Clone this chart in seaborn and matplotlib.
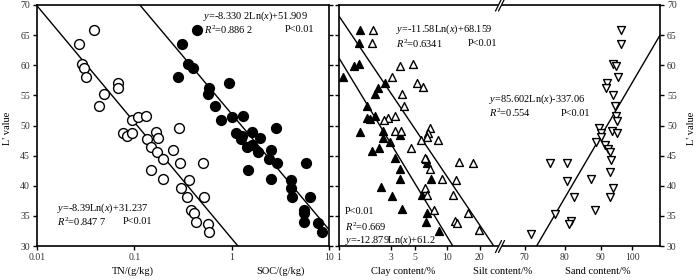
"""Soil L' value vs TN / SOC / particle size, two-panel log-scale scatter."""

import matplotlib
matplotlib.use("Agg")
import matplotlib.pyplot as plt
import matplotlib.ticker as mticker
from matplotlib.lines import Line2D
from matplotlib.patches import Polygon
import numpy as np
import seaborn as sns


W, H = 700, 280

# ---- data ----
tn_x = [0.0386, 0.0272, 0.0288, 0.0306, 0.0321, 0.0674, 0.0674, 0.0489, 0.043, 0.094,
        0.11, 0.132, 0.288, 0.076, 0.0836, 0.094, 0.166, 0.134, 0.177, 0.148,
        0.17, 0.252, 0.196, 0.297, 0.508, 0.149, 0.196, 0.367, 0.302, 0.348,
        0.525, 0.383, 0.414, 0.428, 0.568, 0.586]
tn_y = [65.9, 63.5, 60.2, 59.6, 58.1, 57.1, 56.3, 55.2, 53.2, 50.9,
        51.4, 51.5, 49.6, 48.8, 48.3, 48.8, 48.9, 47.7, 47.9, 46.4,
        45.6, 46.0, 44.4, 43.7, 43.7, 42.6, 41.1, 41.0, 39.7, 38.1,
        38.1, 36.0, 35.4, 34.0, 33.7, 32.3]

soc_x = [0.437, 0.311, 0.359, 0.404, 0.279, 0.946, 0.586, 0.572, 0.675, 0.773,
         1.016, 1.3, 2.84, 1.1, 1.29, 1.63, 1.25, 1.96, 1.61, 1.45,
         1.88, 2.54, 2.41, 2.93, 5.82, 1.46, 2.54, 4.05, 4.05, 4.14,
         6.4, 5.55, 5.55, 5.55, 7.78, 8.43]
soc_y = [65.9, 63.5, 60.2, 59.6, 58.1, 57.1, 56.3, 55.2, 53.2, 50.9,
         51.4, 51.5, 49.6, 48.8, 48.3, 49.0, 47.7, 48.0, 46.8, 46.4,
         45.6, 46.0, 44.4, 43.7, 43.7, 42.6, 41.1, 41.0, 39.7, 38.1,
         38.1, 36.0, 35.4, 34.0, 33.8, 32.3]

clay_x = [1.58, 1.53, 1.38, 1.53, 1.1, 2.65, 2.3, 2.14, 1.8, 1.8,
          2.14, 1.93, 1.56, 2.56, 2.56, 3.65, 2.95, 2.04, 2.35, 3.28,
          3.7, 3.65, 2.42, 3.12, 5.9, 3.86, 6.5, 6.42, 8.39, 6.33,
          6.5, 7.14]
clay_y = [65.9, 63.7, 59.8, 60.2, 58.1, 57.1, 56.3, 55.3, 53.2, 51.2,
          51.6, 51.0, 49.0, 49.1, 48.0, 48.4, 47.3, 45.7, 46.2, 44.6,
          42.8, 41.2, 39.8, 38.3, 38.5, 36.1, 35.5, 34.0, 32.5, 44.4,
          43.7, 41.1]

silt_x = [2.07, 2.03, 4.83, 3.7, 3.12, 5.26, 5.98, 3.83, 3.97, 2.81,
          3.28, 2.61, 6.88, 6.64, 3.28, 3.78, 6.5, 8.21, 5.77, 4.67,
          6.2, 12.8, 17.5, 6.88, 9.0, 12.1, 6.2, 6.5, 11.3, 7.5,
          15.7, 11.7, 12.3, 19.9]
silt_y = [65.9, 63.7, 60.2, 59.8, 58.1, 57.1, 56.4, 55.3, 53.2, 51.2,
          51.6, 50.9, 49.6, 48.8, 49.1, 49.1, 48.1, 47.6, 47.6, 46.2,
          44.6, 44.0, 43.8, 42.7, 41.2, 41.0, 39.7, 38.5, 38.5, 36.0,
          35.5, 34.2, 33.9, 32.7]

sand_x = [96.2, 96.3, 93.7, 94.6, 95.4, 92.0, 91.6, 93.8, 94.4, 94.6,
          95.1, 89.6, 93.4, 94.9, 90.1, 90.1, 88.8, 91.3, 92.4, 92.8,
          93.1, 76.1, 80.6, 92.8, 80.6, 87.1, 93.8, 82.5, 92.8, 88.3,
          77.3, 81.5, 81.2, 71.4]
sand_y = [65.9, 63.5, 60.2, 59.8, 58.0, 57.0, 56.2, 55.1, 53.2, 51.5,
          50.8, 49.6, 49.1, 48.8, 48.8, 48.1, 47.3, 46.8, 46.1, 45.6,
          44.3, 43.7, 43.7, 42.3, 40.8, 41.1, 39.7, 38.1, 38.1, 36.0,
          35.3, 34.2, 33.6, 32.0]

# regression coefficients printed on the chart: y = a*Ln(x) + b
fit_tn = (-8.39, 31.237)
fit_soc = (-8.3302, 51.909)
fit_clay = (-12.879, 61.2)
fit_silt = (-11.58, 68.159)
fit_sand = (85.602, -337.06)

y_ticks = [30, 35, 40, 45, 50, 55, 60, 65, 70]
left_xticks = [0.01, 0.1, 1, 10]
left_xlabels = ["0.01", "0.1", "1", "10"]
cs_xticks = [1, 3, 5, 10, 20]
sand_xticks = [70, 80, 90, 100]


def fx(x):
    return x / W


def fy(y):
    return 1 - y / H


def axes_rect(x0, x1, y0, y1):
    return [fx(x0), fy(y1), (x1 - x0) / W, (y1 - y0) / H]


def style_axis(ax, xticks, xlabels, xlim):
    ax.set_xscale("log")
    ax.set_xlim(*xlim)
    ax.set_ylim(30, 70)
    ax.set_xticks(xticks)
    ax.set_xticklabels(xlabels)
    ax.xaxis.set_minor_locator(mticker.NullLocator())
    ax.set_yticks(y_ticks)
    ax.tick_params(direction="out", length=3, width=1, labelsize=7, pad=2,
                   colors="black", labelcolor="#333333")
    for sp in ax.spines.values():
        sp.set_linewidth(1.2)
        sp.set_color("black")
    ax.set_xlabel("")
    ax.set_ylabel("")
    ax.grid(False)


def fit_line(ax, coef, lo, hi):
    xs = np.geomspace(lo, hi, 200)
    ax.plot(xs, coef[0] * np.log(xs) + coef[1], color="black", lw=1)


sns.set_theme(style="ticks")
plt.rcParams["font.family"] = ["Liberation Serif", "DejaVu Serif"]
plt.rcParams["mathtext.fontset"] = "custom"
plt.rcParams["mathtext.rm"] = "Liberation Serif"
plt.rcParams["mathtext.it"] = "Liberation Serif:italic"

fig = plt.figure(figsize=(7, 2.8), dpi=100)
ax1 = fig.add_axes(axes_rect(37, 329, 5, 246))
ax2 = fig.add_axes(axes_rect(339, 500, 5, 246))
ax3 = fig.add_axes(axes_rect(500, 660, 5, 246))

# ---- left panel: TN & SOC ----
sns.scatterplot(x=tn_x, y=tn_y, ax=ax1, marker="o", s=50, color="white", edgecolor="black", linewidth=1, zorder=3)
sns.scatterplot(x=soc_x, y=soc_y, ax=ax1, marker="o", s=50, color="black", edgecolor="black", linewidth=1, zorder=3)
fit_line(ax1, fit_tn, 0.01, 10)
fit_line(ax1, fit_soc, 0.01, 10)
style_axis(ax1, left_xticks, left_xlabels, (0.01, 10))
ax1.tick_params(axis="y", right=True, labelright=False)

# ---- right panel: clay & silt (log) ----
sns.scatterplot(x=clay_x, y=clay_y, ax=ax2, marker="^", s=32, color="black", edgecolor="black", linewidth=1, zorder=3)
sns.scatterplot(x=silt_x, y=silt_y, ax=ax2, marker="^", s=32, color="white", edgecolor="black", linewidth=1, zorder=3)
fit_line(ax2, fit_clay, 1, 30.8)
fit_line(ax2, fit_silt, 1, 30.8)
style_axis(ax2, cs_xticks, [str(v) for v in cs_xticks], (1, 30.8))
ax2.spines["right"].set_visible(False)
ax2.tick_params(axis="y", labelleft=False)

# ---- right panel: sand ----
sns.scatterplot(x=sand_x, y=sand_y, ax=ax3, marker="v", s=32, color="white", edgecolor="black", linewidth=1, zorder=3)
fit_line(ax3, fit_sand, 64.5, 109.6)
style_axis(ax3, sand_xticks, [str(v) for v in sand_xticks], (64.5, 109.6))
ax3.spines["left"].set_visible(False)
ax3.tick_params(axis="y", left=False, labelleft=False, right=True, labelright=True)

# axis break marks "//"
for by in (5, 246.5):
    bx = 501
    fig.add_artist(Polygon([(fx(bx - 5), fy(by + 6)), (fx(bx + 1), fy(by - 6)),
                            (fx(bx + 3), fy(by - 6)), (fx(bx - 3), fy(by + 6))],
                           closed=True, transform=fig.transFigure, color="white", zorder=10))
    for dx in (-1.5, 1.5):
        fig.add_artist(Line2D([fx(bx - 5 + dx + 1), fx(bx + 1 + dx + 1)], [fy(by + 6), fy(by - 6)],
                              transform=fig.transFigure, color="black", lw=0.9, zorder=11))

# ---- annotations ----
txt = dict(fontsize=7.5, color="black", va="center", ha="left")
fig.text(fx(203), fy(16), r"$y$=-8.330 2Ln($x$)+51.909", **txt)
fig.text(fx(204), fy(30), r"$R^2$=0.886 2", **txt)
fig.text(fx(285), fy(30), "P<0.01", **txt)
fig.text(fx(57), fy(208), r"$y$=-8.39Ln($x$)+31.237", **txt)
fig.text(fx(57), fy(222), r"$R^2$=0.847 7", **txt)
fig.text(fx(123), fy(222), "P<0.01", **txt)

fig.text(fx(396), fy(29), r"$y$=-11.58Ln($x$)+68.159", **txt)
fig.text(fx(396), fy(44), r"$R^2$=0.6341", **txt)
fig.text(fx(468), fy(44), "P<0.01", **txt)
fig.text(fx(489), fy(99), r"$y$=85.602Ln($x$)-337.06", **txt)
fig.text(fx(489), fy(113), r"$R^2$=0.554", **txt)
fig.text(fx(561), fy(113), "P<0.01", **txt)
fig.text(fx(345), fy(212), "P<0.01", **txt)
fig.text(fx(345), fy(227), r"$R^2$=0.669", **txt)
fig.text(fx(345), fy(240), r"$y$=-12.879Ln($x$)+61.2", **txt)

lab = dict(fontsize=7.5, color="black", va="center", ha="center")
fig.text(fx(133), fy(271), "TN/(g/kg)", **lab)
fig.text(fx(280), fy(271), "SOC/(g/kg)", **lab)
fig.text(fx(403), fy(271), "Clay content/%", **lab)
fig.text(fx(503), fy(271), "Silt content/%", **lab)
fig.text(fx(598), fy(271), "Sand content/%", **lab)
fig.text(fx(8), fy(128), "L' value", rotation=90, **lab)
fig.text(fx(692), fy(128), "L' value", rotation=90, **lab)

fig.savefig("out.png", dpi=100)
plt.close(fig)
